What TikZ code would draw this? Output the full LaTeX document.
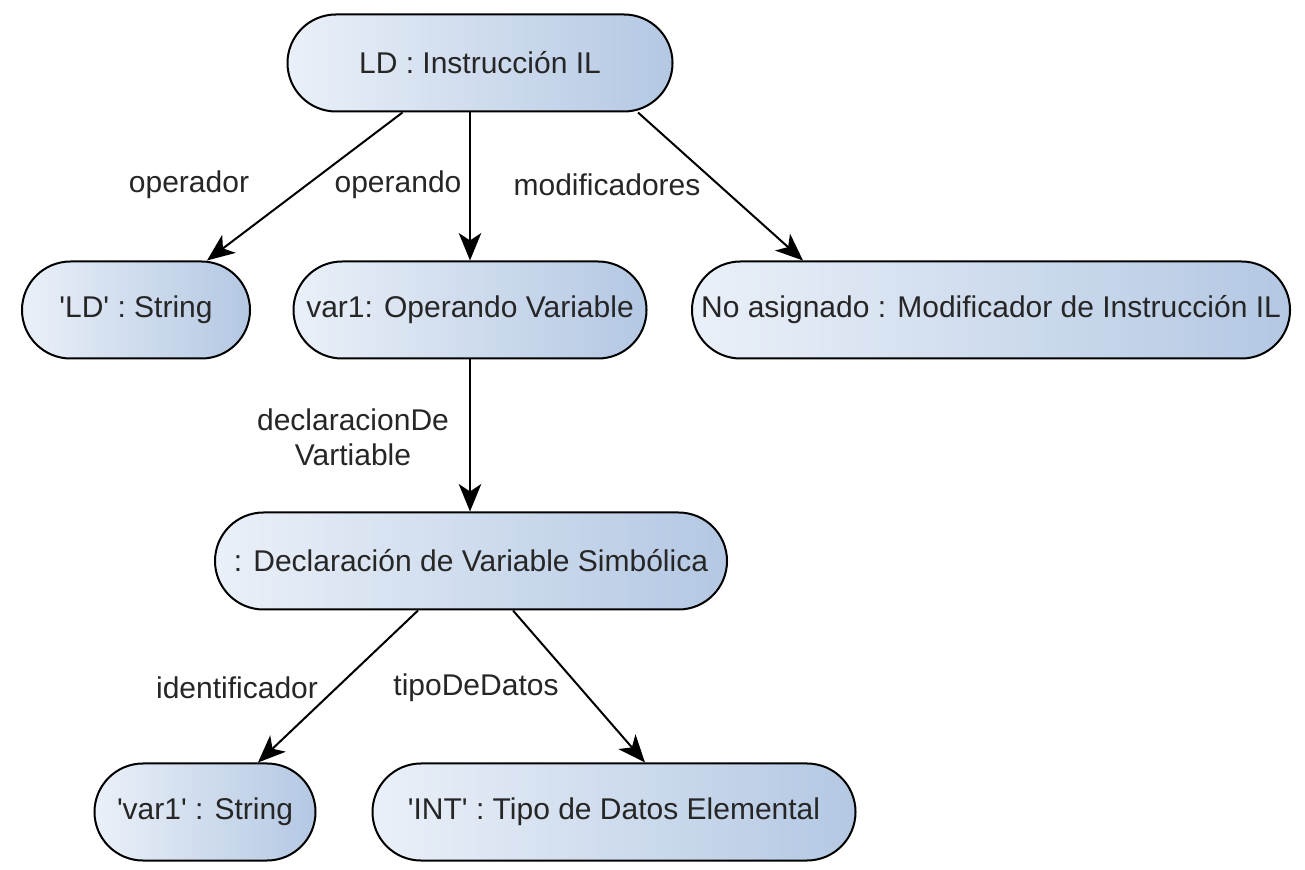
\documentclass[tikz,border=0pt]{standalone}
\usepackage{fontspec}
\setmainfont{Liberation Sans}
\usetikzlibrary{arrows.meta}
\definecolor{boxleft}{HTML}{EAF0F8}
\definecolor{boxright}{HTML}{B4C8E3}
\newcommand{\sq}{\textquotesingle}
\tikzset{
  objbox/.style={draw=black, line width=0.8pt, rounded corners=19.4pt,
    minimum height=38.8pt, inner sep=0pt, left color=boxleft, right color=boxright,
    font=\fontsize{12}{14}\selectfont, text=black!85},
  rel/.style={line width=0.8pt, -{Stealth[length=11pt,width=9pt,inset=3pt]}},
  rellabel/.style={font=\fontsize{12}{14}\selectfont, text=black!85, align=center, inner sep=0pt}
}
\begin{document}
\begin{tikzpicture}[x=0.4pt,y=-0.4pt]
      \useasboundingbox (0,0) rectangle (1305,870);

      \node[objbox, minimum width=154pt] (instr) at (480,63) {LD : Instrucción IL};

      \node[objbox, minimum width=91.2pt] (ldstr) at (136,310) {\sq LD\sq{} : String};
      \node[objbox, minimum width=141.2pt] (var1) at (470,310) {var1: Operando Variable};
      \node[objbox, minimum width=239.2pt] (modif) at (991,310) {No asignado : Modificador de Instrucción IL};

      \node[objbox, minimum width=204.8pt] (decl) at (471,561) {: Declaración de Variable Simbólica};

      \node[objbox, minimum width=88.4pt] (varstr) at (205,812) {\sq var1\sq{} : String};
      \node[objbox, minimum width=193.2pt] (intdt) at (614,812) {\sq INT\sq{} : Tipo de Datos Elemental};

      \draw[rel] ([xshift=-31pt]instr.south) -- ([xshift=28.4pt]ldstr.north);
      \draw[rel] (var1.north |- instr.south) -- (var1.north);
      \draw[rel] ([xshift=63.2pt]instr.south) -- ([xshift=-75.2pt]modif.north);
      \draw[rel] (var1.south) -- (decl.north -| var1.south);
      \draw[rel] ([xshift=-21.2pt]decl.south) -- ([xshift=21.2pt]varstr.north);
      \draw[rel] ([xshift=16.8pt]decl.south) -- ([xshift=12.4pt]intdt.north);

      \node[rellabel] (lopdor) at (189,185) {operador};
      \node[rellabel] (lopdo) at (398,185) {operando};
      \node[rellabel] (lmod) at (607,185) {modificadores};
      \node[rellabel] (ldecl) at (353,437) {declaracionDe\\Vartiable};
      \node[rellabel] (lident) at (237,688) {identificador};
      \node[rellabel] (ltipo) at (476,688) {tipoDeDatos};

\end{tikzpicture}
\end{document}
